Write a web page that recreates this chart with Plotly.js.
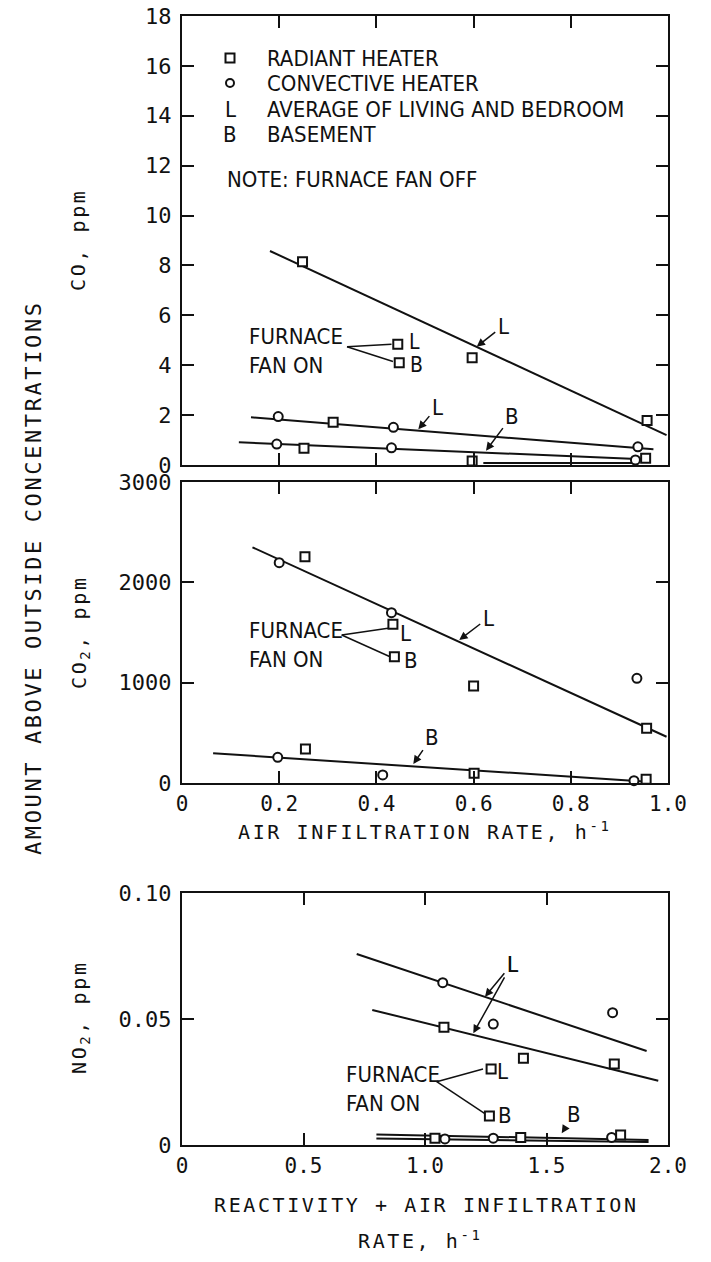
<!DOCTYPE html>
<html>
<head>
<meta charset="utf-8">
<script src="https://cdn.plot.ly/plotly-3.0.1.min.js"></script>
<style>
  html, body { margin: 0; padding: 0; background: #fff; }
  #chart { width: 711px; height: 1262px; }
  text[style*="monospace"] { letter-spacing: 2.6px; }
</style>
</head>
<body>
<div id="chart"></div>
<script>
// ---------- DATA ----------
// Panel 1: CO, ppm vs air infiltration rate
const coSquareX = [0.248, 0.311, 0.597, 0.957, 0.251, 0.597, 0.954];
const coSquareY = [8.15, 1.71, 4.30, 1.78, 0.67, 0.16, 0.27];
const coCircleX = [0.198, 0.435, 0.938, 0.195, 0.431, 0.933];
const coCircleY = [1.94, 1.51, 0.73, 0.84, 0.69, 0.20];
const coFanOnX = [0.444, 0.447];
const coFanOnY = [4.84, 4.10];
const coFitRadL_X = [0.181, 0.997], coFitRadL_Y = [8.58, 1.20];
const coFitConvL_X = [0.142, 0.970], coFitConvL_Y = [1.91, 0.63];
const coFitB_X = [0.117, 0.960], coFitB_Y = [0.91, 0.22];
const coFitB2_X = [0.620, 0.930], coFitB2_Y = [0.08, 0.08];

// Panel 2: CO2, ppm vs air infiltration rate
const co2SquareX = [0.253, 0.600, 0.956, 0.254, 0.601, 0.955];
const co2SquareY = [2256, 967, 545, 339, 97, 37];
const co2CircleX = [0.200, 0.431, 0.936, 0.197, 0.413, 0.930];
const co2CircleY = [2196, 1698, 1043, 256, 80, 23];
const co2FanOnX = [0.434, 0.437];
const co2FanOnY = [1582, 1259];
const co2FitL_X = [0.145, 0.997], co2FitL_Y = [2349, 461];
const co2FitB_X = [0.064, 0.950], co2FitB_Y = [296, 15];

// Panel 3: NO2, ppm vs reactivity + air infiltration rate
const no2SquareX = [1.078, 1.405, 1.779, 1.041, 1.394, 1.805];
const no2SquareY = [0.0467, 0.0344, 0.0321, 0.0027, 0.0030, 0.0040];
const no2CircleX = [1.073, 1.281, 1.772, 1.082, 1.281, 1.768];
const no2CircleY = [0.0644, 0.0480, 0.0525, 0.0024, 0.0027, 0.0030];
const no2FanOnX = [1.272, 1.265];
const no2FanOnY = [0.0302, 0.0115];
const no2FitConvL_X = [0.719, 1.912], no2FitConvL_Y = [0.0758, 0.0373];
const no2FitRadL_X = [0.783, 1.960], no2FitRadL_Y = [0.0536, 0.0255];
const no2FitB1_X = [0.800, 1.920], no2FitB1_Y = [0.0042, 0.0020];
const no2FitB2_X = [0.800, 1.920], no2FitB2_Y = [0.0026, 0.0012];

// Tick labels
const coTickVals = [0, 2, 4, 6, 8, 10, 12, 14, 16, 18];
const coTickText = ["0", "2", "4", "6", "8", "10", "12", "14", "16", "18"];
const co2TickVals = [0, 1000, 2000, 3000];
const co2TickText = ["0", "1000", "2000", "3000"];
const no2TickVals = [0, 0.05, 0.10];
const no2TickText = ["0", "0.05", "0.10"];
const rateTickVals = [0, 0.2, 0.4, 0.6, 0.8, 1.0];
const rateTickText = ["0", "0.2", "0.4", "0.6", "0.8", "1.0"];
const reactTickVals = [0, 0.5, 1.0, 1.5, 2.0];
const reactTickText = ["0", "0.5", "1.0", "1.5", "2.0"];

// Text
const legendLabels = ["RADIANT HEATER", "CONVECTIVE HEATER", "AVERAGE OF LIVING AND BEDROOM", "BASEMENT"];
const noteText = "NOTE: FURNACE FAN OFF";
const fanOnText = "FURNACE<br>FAN ON";

// ---------- LAYOUT HELPERS ----------
const W = 711, H = 1262;
const PX = v => v / W;
const PY = v => 1 - v / H;
const INK = "#111";
const NARROW = "Liberation Sans Narrow, Arial Narrow, DejaVu Sans Condensed, sans-serif";
const MONO_T = "DejaVu Sans Mono, monospace";   // spaced titles
const MONO = "DejaVu Sans Mono";                  // tick labels

function lineTrace(x, y, xa, ya) {
  return {x, y, xaxis: xa, yaxis: ya, mode: "lines", type: "scatter", cliponaxis: false,
    line: {color: INK, width: 2}, hoverinfo: "skip", showlegend: false};
}
function markTrace(x, y, xa, ya, sym, name) {
  return {x, y, xaxis: xa, yaxis: ya, mode: "markers", type: "scatter", cliponaxis: false, name,
    marker: {symbol: sym, size: 9, color: "#fff", line: {color: INK, width: 2}},
    showlegend: false};
}

const traces = [
  lineTrace(coFitRadL_X, coFitRadL_Y, "x", "y"),
  lineTrace(coFitConvL_X, coFitConvL_Y, "x", "y"),
  lineTrace(coFitB_X, coFitB_Y, "x", "y"),
  lineTrace(coFitB2_X, coFitB2_Y, "x", "y"),
  markTrace(coSquareX, coSquareY, "x", "y", "square", "Radiant heater"),
  markTrace(coCircleX, coCircleY, "x", "y", "circle", "Convective heater"),
  markTrace(coFanOnX, coFanOnY, "x", "y", "square", "Furnace fan on"),

  lineTrace(co2FitL_X, co2FitL_Y, "x2", "y2"),
  lineTrace(co2FitB_X, co2FitB_Y, "x2", "y2"),
  markTrace(co2SquareX, co2SquareY, "x2", "y2", "square", "Radiant heater"),
  markTrace(co2CircleX, co2CircleY, "x2", "y2", "circle", "Convective heater"),
  markTrace(co2FanOnX, co2FanOnY, "x2", "y2", "square", "Furnace fan on"),

  lineTrace(no2FitConvL_X, no2FitConvL_Y, "x3", "y3"),
  lineTrace(no2FitRadL_X, no2FitRadL_Y, "x3", "y3"),
  lineTrace(no2FitB1_X, no2FitB1_Y, "x3", "y3"),
  lineTrace(no2FitB2_X, no2FitB2_Y, "x3", "y3"),
  markTrace(no2SquareX, no2SquareY, "x3", "y3", "square", "Radiant heater"),
  markTrace(no2CircleX, no2CircleY, "x3", "y3", "circle", "Convective heater"),
  markTrace(no2FanOnX, no2FanOnY, "x3", "y3", "square", "Furnace fan on")
];

const xDom = [PX(182), PX(668)];
function axisBase(extra) {
  return Object.assign({
    showline: true, linecolor: INK, linewidth: 2, mirror: "ticks",
    ticks: "inside", ticklen: 12, tickwidth: 2, tickcolor: INK,
    showgrid: false, zeroline: false, automargin: false, fixedrange: true,
    tickmode: "array", ticklabelstandoff: 4,
    tickfont: {family: MONO, size: 22, color: INK}
  }, extra);
}

const layout = {
  width: W, height: H,
  margin: {l: 0, r: 0, t: 0, b: 0},
  paper_bgcolor: "#fff", plot_bgcolor: "#fff",
  showlegend: false,
  xaxis: axisBase({domain: xDom, range: [0, 1], anchor: "y", tickvals: [0.2, 0.4, 0.6, 0.8], showticklabels: false}),
  yaxis: axisBase({domain: [PY(465), PY(16)], range: [0, 18], anchor: "x", tickvals: coTickVals, ticktext: coTickText}),
  xaxis2: axisBase({domain: xDom, range: [0, 1], anchor: "y2", tickvals: rateTickVals, ticktext: rateTickText,
    tickfont: {family: MONO, size: 21, color: INK}, ticklabelstandoff: 1}),
  yaxis2: axisBase({domain: [PY(783), PY(482)], range: [0, 3000], anchor: "x2", tickvals: co2TickVals, ticktext: co2TickText}),
  xaxis3: axisBase({domain: xDom, range: [0, 2], anchor: "y3", tickvals: reactTickVals, ticktext: reactTickText,
    tickfont: {family: MONO, size: 21, color: INK}, ticklabelstandoff: 1}),
  yaxis3: axisBase({domain: [PY(1145), PY(893)], range: [0, 0.1], anchor: "x3", tickvals: no2TickVals, ticktext: no2TickText}),
  shapes: [],
  annotations: []
};

const A = layout.annotations, S = layout.shapes;
function txt(text, x, y, opts) {
  A.push(Object.assign({text, x: PX(x), y: PY(y), xref: "paper", yref: "paper", showarrow: false,
    xanchor: "center", yanchor: "middle", font: {family: NARROW, size: 22, color: INK}}, opts || {}));
}
function arrowLbl(text, tipX, tipY, lx, ly) {
  A.push({text, x: PX(tipX), y: PY(tipY), xref: "paper", yref: "paper", showarrow: true,
    ax: lx - tipX, ay: ly - tipY, arrowhead: 2, arrowsize: 1.1, arrowwidth: 1.5, arrowcolor: INK,
    standoff: 0, startstandoff: 1, font: {family: NARROW, size: 22, color: INK}});
}
function seg(x0, y0, x1, y1) {
  S.push({type: "line", xref: "paper", yref: "paper", x0: PX(x0), y0: PY(y0), x1: PX(x1), y1: PY(y1),
    line: {color: INK, width: 1.5}});
}

// Legend (inside top panel)
S.push({type: "rect", xref: "paper", yref: "paper", x0: PX(225.5), x1: PX(234.5), y0: PY(62.5), y1: PY(53.5),
  line: {color: INK, width: 2}, fillcolor: "#fff"});
S.push({type: "circle", xref: "paper", yref: "paper", x0: PX(226), x1: PX(234), y0: PY(87), y1: PY(79),
  line: {color: INK, width: 2}, fillcolor: "#fff"});
txt("L", 230, 110);
txt("B", 230, 135);
const legendRows = [58, 83, 110, 135];
legendLabels.forEach((t, i) => txt(t, 265, legendRows[i], {xanchor: "left"}));
txt(noteText, 225, 180, {xanchor: "left"});

// Panel 1 annotations
txt(fanOnText, 247, 351, {xanchor: "left", align: "left"});
seg(347, 346.7, 391.5, 344.3);
seg(347, 346.7, 393, 361.5);
txt("L", 414, 342, {font: {family: NARROW, size: 21, color: INK}});
txt("B", 416, 365, {font: {family: NARROW, size: 21, color: INK}});
arrowLbl("L", 476.7, 346.7, 503, 326);
arrowLbl("L", 418.3, 429.3, 437, 407);
arrowLbl("B", 486, 450.7, 512, 416);

// Panel 2 annotations
txt(fanOnText, 247, 645, {xanchor: "left", align: "left"});
seg(341.7, 635, 388, 628.3);
seg(341.7, 635, 389.5, 656.5);
txt("L", 405, 633);
txt("B", 411, 660);
arrowLbl("L", 459.3, 640, 488, 618);
arrowLbl("B", 413.3, 764, 432, 737);

// Panel 3 annotations
arrowLbl("L", 485, 996.7, 512, 964);
arrowLbl("L", 473.3, 1033.3, 512, 964);
txt(fanOnText, 344, 1089, {xanchor: "left", align: "left"});
seg(436.7, 1081.7, 483, 1069);
seg(436.7, 1081.7, 484.5, 1113.3);
txt("L", 503, 1071);
txt("B", 505, 1115);
arrowLbl("B", 561.7, 1133.3, 574, 1114);

// Axis titles
const titleFont = {family: MONO_T, size: 20, color: INK};
txt("AMOUNT ABOVE OUTSIDE CONCENTRATIONS", 33, 578, {textangle: -90, font: {family: MONO_T, size: 22, color: INK}});
txt("CO, ppm", 78, 240, {textangle: -90, font: titleFont});
txt("CO<sub>2</sub>, ppm", 80, 632, {textangle: -90, font: titleFont});
txt("NO<sub>2</sub>, ppm", 80, 1017, {textangle: -90, font: titleFont});
txt("AIR INFILTRATION RATE, h<sup>-1</sup>", 424, 831, {font: titleFont});
txt("REACTIVITY + AIR INFILTRATION", 427, 1205, {font: titleFont});
txt("RATE, h<sup>-1</sup>", 420, 1240, {font: titleFont});

Plotly.newPlot("chart", traces, layout, {staticPlot: true, displayModeBar: false});
</script>
</body>
</html>
